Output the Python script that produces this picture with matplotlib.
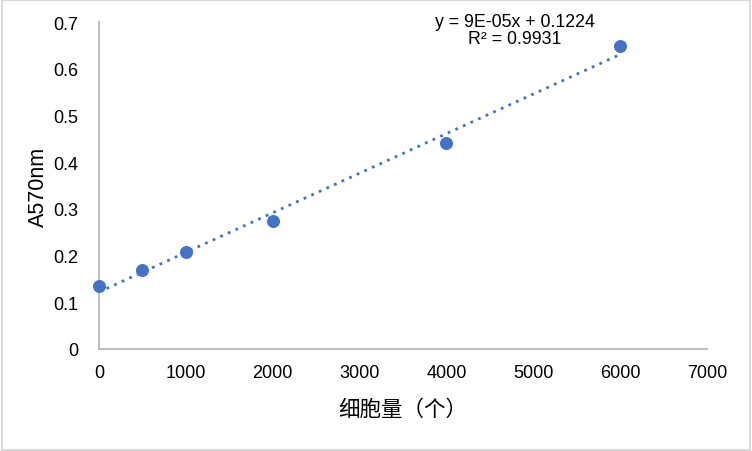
import numpy as np
import matplotlib.pyplot as plt
from matplotlib.patches import Rectangle

cells = [0, 500, 1000, 2000, 4000, 6000]
a570 = [0.135, 0.169, 0.208, 0.274, 0.441, 0.649]
xticks = [0, 1000, 2000, 3000, 4000, 5000, 6000, 7000]
yticks = [0, 0.1, 0.2, 0.3, 0.4, 0.5, 0.6, 0.7]
eq_text = "y = 9E-05x + 0.1224\nR² = 0.9931"

plt.rcParams['font.family'] = ['Liberation Sans', 'Noto Sans CJK SC', 'DejaVu Sans']
blue = "#4472C4"

fig = plt.figure(figsize=(7.52, 4.52), dpi=100)
ax = fig.add_axes([0.1316, 0.2257, 0.8084, 0.7234])

# linear trendline
coef = np.polyfit(cells, a570, 1)
xs = np.array([cells[0], cells[-1]])
ax.plot(xs, np.polyval(coef, xs), linestyle=(0, (1, 2)), color=blue, lw=2)
ax.scatter(cells, a570, s=70, color=blue, zorder=3, clip_on=False)

ax.set_xlim(0, 7000)
ax.set_ylim(0, 0.7)
ax.set_xticks(xticks)
ax.set_yticks(yticks)
ax.set_yticklabels(["0" if v == 0 else "%.1f" % v for v in yticks])
ax.tick_params(length=0, labelsize=13, pad=11)
ax.tick_params(axis='y', pad=15)
for s in ["top", "right"]:
    ax.spines[s].set_visible(False)
for s in ["left", "bottom"]:
    ax.spines[s].set_color("#BFBFBF")
    ax.spines[s].set_linewidth(1.5)

ax.set_xlabel("细胞量（个）", fontsize=15.5, family=['Noto Sans CJK SC', 'DejaVu Sans'], labelpad=12)
ax.set_ylabel("A570nm", fontsize=15.5, labelpad=3)

ax.text(4790, 0.682, eq_text, fontsize=12.8, ha="center", va="center", linespacing=1.0)

fig.patches.append(Rectangle((0.002, 0.003), 0.995, 0.994, transform=fig.transFigure,
                             fill=False, edgecolor="#D9D9D9", lw=1.5))

fig.savefig("out.png", dpi=100)
